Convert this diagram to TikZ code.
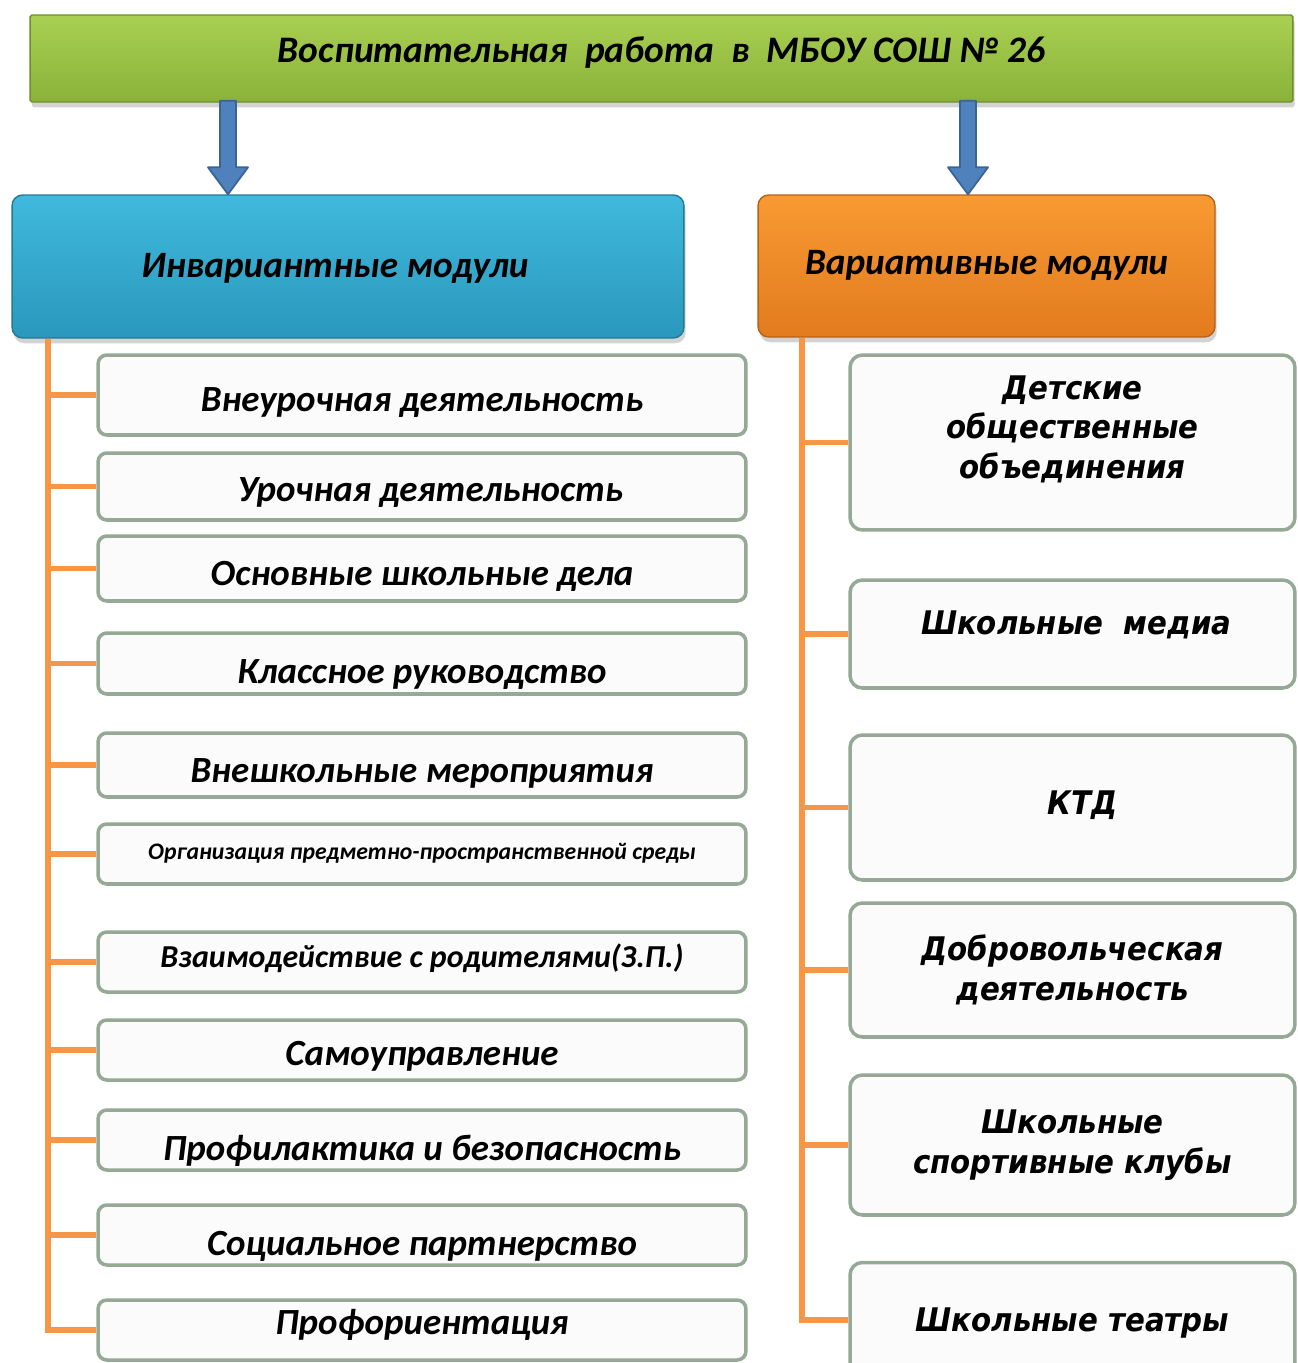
\documentclass[tikz,border=0pt]{standalone}
\usepackage{fontspec}
\setmainfont{Carlito}
\newfontfamily\vfont[FakeStretch=0.9]{DejaVu Sans}
\usetikzlibrary{positioning,calc,shadows}

\definecolor{titletop}{HTML}{A9D052}
\definecolor{titlebot}{HTML}{8AB239}
\definecolor{invtop}{HTML}{3FB9DD}
\definecolor{invbot}{HTML}{2A98BC}
\definecolor{vartop}{HTML}{F89A32}
\definecolor{varbot}{HTML}{E27B1E}
\definecolor{arrowblue}{HTML}{4F81BD}
\definecolor{arrowedge}{HTML}{3A6398}
\definecolor{branchorange}{HTML}{F79646}
\definecolor{boxedge}{HTML}{96A896}

% text set with its baseline #1 below the node centre
\newcommand{\lowtext}[2]{\raisebox{-#1}[0pt][0pt]{#2}}

\begin{document}
\begin{tikzpicture}[x=0.02cm, y=-0.02cm]
  \tikzstyle{head} = [rectangle, rounded corners=6pt, draw=#1!80!black,
                      line width=0.8pt, drop shadow={opacity=0.35,
                      shadow xshift=1pt, shadow yshift=-3pt},
                      font=\fontsize{21.2}{26}\selectfont\bfseries\itshape]
  \tikzstyle{lbox} = [rectangle, rounded corners=5pt, draw=boxedge,
                      line width=2pt, fill=white!97!gray,
                      minimum width=12.96cm, text centered,
                      font=\fontsize{21}{24}\selectfont\bfseries\itshape]
  \tikzstyle{rbox} = [rectangle, rounded corners=7pt, draw=boxedge,
                      line width=2pt, fill=white!97!gray,
                      minimum width=8.9cm, align=center,
                      font=\vfont\fontsize{18.5}{22.5}\selectfont\bfseries\itshape]
  \tikzstyle{branch} = [draw=branchorange, line width=3pt]
  \tikzstyle{bigarrow} = [draw=arrowedge, fill=arrowblue, line width=1pt,
                          line join=round]
  \useasboundingbox (0,0) rectangle (1298,1363);
  \begin{scope}
  \clip (0,0) rectangle (1298,1363);
  % top line
  \node[head=titlebot, top color=titletop, bottom color=titlebot,
        rounded corners=1pt, minimum width=25.26cm, minimum height=1.74cm,
        font=\fontsize{21.3}{26}\selectfont\bfseries\itshape]
        (title) at (661.5,58.5)
        {\lowtext{0.07cm}{Воспитательная\ \ работа\ \ в\ \ МБОУ СОШ №~26}};
  % module headers
  \node[head=invbot, top color=invtop, bottom color=invbot,
        minimum width=13.44cm, minimum height=2.86cm]
        (inv) at (348,266.5)
        {\lowtext{0.21cm}{Инвариантные модули\hspace*{0.52cm}}};
  \node[head=varbot, top color=vartop, bottom color=varbot,
        minimum width=9.14cm, minimum height=2.84cm]
        (var) at (986.5,266) {\lowtext{0.17cm}{Вариативные модули}};
  \coordinate (al) at (228,0);
  \coordinate (ar) at (968,0);
  \coordinate (ha) at (inv.north -| al);
  \coordinate (hb) at (var.north -| ar);
  \draw[bigarrow] ($(title.south -| al)+(-8,-2)$) -- ($(ha)+(-8,-27)$)
    -- ($(ha)+(-20,-27)$) -- (ha) -- ($(ha)+(20,-27)$)
    -- ($(ha)+(8,-27)$) -- ($(title.south -| al)+(8,-2)$) -- cycle;
  \draw[bigarrow] ($(title.south -| ar)+(-8,-2)$) -- ($(hb)+(-8,-27)$)
    -- ($(hb)+(-20,-27)$) -- (hb) -- ($(hb)+(20,-27)$)
    -- ($(hb)+(8,-27)$) -- ($(title.south -| ar)+(8,-2)$) -- cycle;
  % invariant modules
  \node[lbox, minimum height=1.6cm] (l1) at (422,395)
    {\lowtext{0.33cm}{Внеурочная деятельность}};
  \node[lbox, minimum height=1.34cm] (l2) at (422,486.5)
    {\lowtext{0.3cm}{\ \ Урочная деятельность}};
  \node[lbox, minimum height=1.3cm] (l3) at (422,568.5)
    {\lowtext{0.33cm}{Основные школьные дела}};
  \node[lbox, minimum height=1.22cm] (l4) at (422,663.5)
    {\lowtext{0.39cm}{Классное руководство}};
  \node[lbox, minimum height=1.28cm] (l5) at (422,765)
    {\lowtext{0.34cm}{Внешкольные мероприятия}};
  \node[lbox, minimum height=1.2cm,
        font=\fontsize{13.5}{16}\selectfont\bfseries\itshape] (l6)
    at (422,854) {\lowtext{0.1cm}{Организация предметно-пространственной среды}};
  \node[lbox, minimum height=1.2cm,
        font=\fontsize{18.2}{20}\selectfont\bfseries\itshape] (l7)
    at (422,962) {\lowtext{0.1cm}{Взаимодействие с родителями(З.П.)}};
  \node[lbox, minimum height=1.2cm] (l8) at (422,1050)
    {\lowtext{0.3cm}{Самоуправление}};
  \node[lbox, minimum height=1.2cm] (l9) at (422,1140)
    {\lowtext{0.4cm}{Профилактика и безопасность}};
  \node[lbox, minimum height=1.2cm] (l10) at (422,1235)
    {\lowtext{0.4cm}{Социальное партнерство}};
  \node[lbox, minimum height=1.2cm] (l11) at (422,1330)
    {\lowtext{0.08cm}{Профориентация}};
  \coordinate (lt) at (inv.south -| 48,0);
  \foreach \n in {l1,l2,l3,l4,l5,l6,l7,l8,l9,l10,l11}
    \path[branch] (lt) |- (\n.west);
  % variative modules
  \node[rbox, minimum height=3.5cm] (r1) at (1072.5,442.5)
    {\raisebox{0.08cm}[0pt][0pt]{\begin{tabular}{@{}c@{}}Детские\\
     общественные\\объединения\end{tabular}}};
  \node[rbox, minimum height=2.16cm] (r2) at (1072.5,634)
    {\lowtext{0cm}{\hspace*{0.15cm}Школьные\ \ медиа}};
  \node[rbox, minimum height=2.9cm] (r3) at (1072.5,807.5)
    {\lowtext{0.13cm}{\hspace*{0.4cm}КТД}};
  \node[rbox, minimum height=2.68cm] (r4) at (1072.5,970)
    {Добровольческая\\деятельность};
  \node[rbox, minimum height=2.8cm] (r5) at (1072.5,1145)
    {Школьные\\спортивные клубы};
  \node[rbox, minimum height=2.3cm] (r6) at (1072.5,1320)
    {\lowtext{0.22cm}{Школьные театры}};
  \coordinate (rt) at (var.south -| 802,0);
  \foreach \n in {r1,r2,r3,r4,r5,r6}
    \path[branch] (rt) |- (\n.west);
  \end{scope}
\end{tikzpicture}
\end{document}
